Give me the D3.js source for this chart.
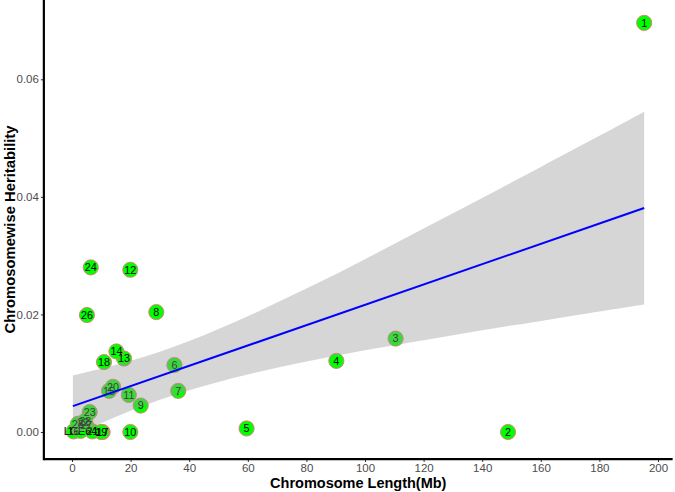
<html>
<head>
<script src="https://d3js.org/d3.v7.min.js"></script>
<style>
  body { margin: 0; background: #fff; }
  text { font-family: "Liberation Sans", Arial, sans-serif; }
</style>
</head>
<body>
<svg id="chart" width="675" height="492"></svg>
<script>
// chromosome labels, length (Mb) and heritability
const chromLabels = ["1", "2", "3", "4", "5", "6", "7", "8", "9", "10",
  "11", "12", "13", "14", "15", "16", "17", "18", "19", "20",
  "21", "22", "23", "24", "25", "26", "27", "28", "LGE64"];
const chromLength = [195.28, 148.81, 110.45, 90.22, 59.58, 34.95, 36.25, 28.77, 23.44, 19.91,
  19.40, 19.90, 17.76, 15.16, 12.66, 0.54, 10.45, 10.92, 9.95, 13.99,
  6.96, 3.94, 6.04, 6.40, 2.03, 5.10, 4.84, 4.49, 2.9];
const heritability = [0.0696, 0.0000, 0.0159, 0.0121, 0.0006, 0.0114, 0.0070, 0.0204, 0.0045, 0.0000,
  0.0063, 0.0276, 0.0125, 0.0137, 0.0070, 0.0001, 0.0000, 0.0119, 0.0000, 0.0077,
  0.0001, 0.0016, 0.0034, 0.0280, 0.0014, 0.0199, 0.0011, 0.0019, 0.0002];

// linear fit and its confidence band
const fitX = [0.3, 195.28];
const fitY = [0.0044, 0.0381];
const bandX = [0.3, 20, 40, 60, 80, 100, 120, 140, 160, 180, 195.28];
const bandLow = [-0.0007, 0.0036, 0.0071, 0.0098, 0.0120, 0.0139, 0.0156, 0.0173, 0.0189, 0.0205, 0.0217];
const bandHigh = [0.0096, 0.0121, 0.0155, 0.0197, 0.0244, 0.0294, 0.0346, 0.0398, 0.0451, 0.0504, 0.0545];

const xTicks = [0, 20, 40, 60, 80, 100, 120, 140, 160, 180, 200];
const yTicks = [0, 0.02, 0.04, 0.06];

const svg = d3.select("#chart");

const x = d3.scaleLinear().domain([0, 200]).range([72, 658]);
const y = d3.scaleLinear().domain([0, 0.06]).range([432, 79.3]);

const xMin = -9.6, xMax = 205, yMin = -0.0046, yMax = 0.0735;

const plot = svg.append("g");

// points
const pts = chromLabels.map((d, i) => ({ label: d, x: chromLength[i], y: heritability[i] }));

plot.selectAll("circle.pt").data(pts)
  .join("circle")
  .attr("class", "pt")
  .attr("cx", d => x(d.x))
  .attr("cy", d => y(d.y))
  .attr("r", 7.6)
  .attr("fill", "#00ff00")
  .attr("stroke", "#e8777a")
  .attr("stroke-width", 0.9);

plot.selectAll("text.lab").data(pts)
  .join("text")
  .attr("class", "lab")
  .attr("x", d => x(d.x))
  .attr("y", d => y(d.y))
  .attr("dy", "0.36em")
  .attr("text-anchor", "middle")
  .attr("font-size", 10.8)
  .attr("fill", "#000")
  .text(d => d.label);

// confidence band on top (semi-transparent)
const band = bandX.map((d, i) => ({ x: d, lo: bandLow[i], hi: bandHigh[i] }));
plot.append("path")
  .datum(band)
  .attr("fill", "#999999")
  .attr("fill-opacity", 0.4)
  .attr("d", d3.area().curve(d3.curveNatural)
    .x(d => x(d.x)).y0(d => y(d.lo)).y1(d => y(d.hi)));

plot.append("path")
  .datum(fitX.map((d, i) => [d, fitY[i]]))
  .attr("fill", "none")
  .attr("stroke", "#0000ff")
  .attr("stroke-width", 2)
  .attr("d", d3.line().x(d => x(d[0])).y(d => y(d[1])));

// axes
const xAxis = svg.append("g").attr("transform", "translate(0," + y(yMin) + ")")
  .call(d3.axisBottom(x).tickValues(xTicks).tickSize(3).tickPadding(2).tickFormat(d3.format("d")));
xAxis.select(".domain").remove();
xAxis.selectAll(".tick line").attr("stroke", "#333").attr("stroke-width", 1);
xAxis.selectAll(".tick text").attr("fill", "#4d4d4d").attr("font-size", 11.5)
  .style("font-family", "'Liberation Sans', Arial, sans-serif");

const yAxis = svg.append("g").attr("transform", "translate(" + x(xMin) + ",0)")
  .call(d3.axisLeft(y).tickValues(yTicks).tickSize(3).tickPadding(2).tickFormat(d3.format(".2f")));
yAxis.select(".domain").remove();
yAxis.selectAll(".tick line").attr("stroke", "#333").attr("stroke-width", 1);
yAxis.selectAll(".tick text").attr("fill", "#4d4d4d").attr("font-size", 11.5)
  .style("font-family", "'Liberation Sans', Arial, sans-serif");

svg.append("line")
  .attr("x1", x(xMin)).attr("x2", x(xMax))
  .attr("y1", y(yMin)).attr("y2", y(yMin))
  .attr("stroke", "#000").attr("stroke-width", 2.2);
svg.append("line")
  .attr("x1", x(xMin)).attr("x2", x(xMin))
  .attr("y1", y(yMax)).attr("y2", y(yMin) + 1.1)
  .attr("stroke", "#000").attr("stroke-width", 2.2);

// titles
svg.append("text")
  .attr("x", (x(xMin) + x(xMax)) / 2)
  .attr("y", 488)
  .attr("text-anchor", "middle")
  .attr("font-size", 14.5)
  .attr("font-weight", "bold")
  .text("Chromosome Length(Mb)");

svg.append("text")
  .attr("transform", "translate(15," + (y(yMin) + y(yMax)) / 2 + ") rotate(-90)")
  .attr("text-anchor", "middle")
  .attr("font-size", 14.8)
  .attr("font-weight", "bold")
  .text("Chromosomewise Heritability");
</script>
</body>
</html>
